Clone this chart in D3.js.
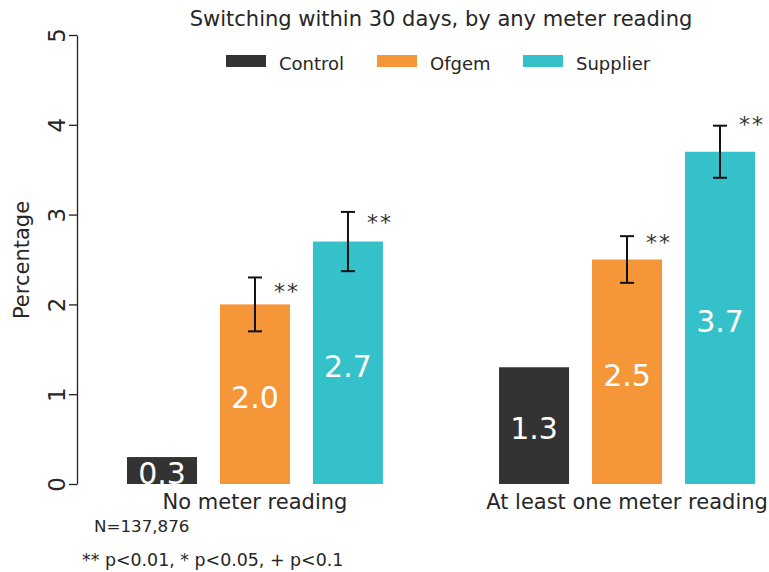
<!DOCTYPE html>
<html>
<head>
<meta charset="utf-8">
<script src="https://cdn.jsdelivr.net/npm/d3@7"></script>
<style>
  body { margin: 0; background: #fff; }
  text { font-family: "DejaVu Sans", Verdana, sans-serif; fill: #262626; }
</style>
</head>
<body>
<svg id="chart" width="769" height="572"></svg>
<script>
// groups and series
const groups = ["No meter reading", "At least one meter reading"];
const series = ["Control", "Ofgem", "Supplier"];
const colors = ["#333333", "#f59638", "#35c1ca"];

// values (percent)
const controlVals = [0.3, 1.3];
const ofgemVals = [2.0, 2.5];
const supplierVals = [2.7, 3.7];
// 95% CI bounds (control has none)
const ofgemLow = [1.7, 2.24];
const ofgemHigh = [2.3, 2.76];
const supplierLow = [2.37, 3.41];
const supplierHigh = [3.03, 3.99];
const stars = ["", "**", "**"];

const yTicks = [0, 1, 2, 3, 4, 5];

const data = [];
groups.forEach((g, i) => {
  data.push({ group: g, key: "Control", value: controlVals[i], lo: null, hi: null, star: stars[0] });
  data.push({ group: g, key: "Ofgem", value: ofgemVals[i], lo: ofgemLow[i], hi: ofgemHigh[i], star: stars[1] });
  data.push({ group: g, key: "Supplier", value: supplierVals[i], lo: supplierLow[i], hi: supplierHigh[i], star: stars[2] });
});

const svg = d3.select("#chart");

const y = d3.scaleLinear().domain([0, 5]).range([484, 35]);
const x0 = d3.scaleBand().domain(groups).range([127, 755]).paddingInner(0.312).paddingOuter(0);
const x1 = d3.scaleBand().domain(series).range([0, x0.bandwidth()]).paddingInner(0.247).paddingOuter(0);
const color = d3.scaleOrdinal().domain(series).range(colors);

// title
svg.append("text")
  .attr("x", 441).attr("y", 26)
  .attr("text-anchor", "middle")
  .style("font-size", "21px")
  .text("Switching within 30 days, by any meter reading");

// legend
const legend = svg.append("g");
const legendX = [226, 377, 523];
series.forEach((s, i) => {
  legend.append("rect")
    .attr("x", legendX[i]).attr("y", 55)
    .attr("width", 40).attr("height", 12)
    .attr("fill", color(s));
  legend.append("text")
    .attr("x", legendX[i] + 53).attr("y", 70)
    .style("font-size", "18px")
    .text(s);
});

// y axis
const yAxis = svg.append("g")
  .attr("transform", "translate(77,0)")
  .call(d3.axisLeft(y).tickValues(yTicks).tickSize(8).tickSizeOuter(0).tickFormat(d3.format("d")));
yAxis.select(".domain").attr("stroke", "#222").attr("stroke-width", 1.3);
yAxis.selectAll(".tick line").attr("stroke", "#222").attr("stroke-width", 1.3);
yAxis.selectAll(".tick text")
  .attr("transform", "rotate(-90)")
  .attr("x", 0).attr("y", -12).attr("dy", 0)
  .attr("text-anchor", "middle")
  .style("font-size", "23px")
  .style("font-family", "'DejaVu Sans', Verdana, sans-serif")
  .attr("fill", "#262626");

svg.append("text")
  .attr("transform", "translate(29,260) rotate(-90)")
  .attr("text-anchor", "middle")
  .style("font-size", "21px")
  .text("Percentage");

// bars
const bars = svg.append("g");
const barX = d => x0(d.group) + x1(d.key);

bars.selectAll("rect")
  .data(data)
  .join("rect")
  .attr("x", barX)
  .attr("y", d => y(d.value))
  .attr("width", x1.bandwidth())
  .attr("height", d => y(0) - y(d.value))
  .attr("fill", d => color(d.key));

// value labels inside bars (clipped to the bar area)
svg.append("clipPath").attr("id", "plotclip")
  .append("rect").attr("x", 78).attr("y", 0).attr("width", 700).attr("height", y(0));

svg.append("g").attr("clip-path", "url(#plotclip)")
  .selectAll("text")
  .data(data)
  .join("text")
  .attr("x", d => barX(d) + x1.bandwidth() / 2)
  .attr("y", d => (y(d.value) + y(0)) / 2)
  .attr("dy", "0.46em")
  .attr("text-anchor", "middle")
  .style("font-size", "30px")
  .style("fill", "#fff")
  .text(d => d3.format(".1f")(d.value));

// error bars
const errs = data.filter(d => d.lo !== null);
const eb = svg.append("g").attr("stroke", "#111").attr("stroke-width", 2);
errs.forEach(d => {
  const cx = barX(d) + x1.bandwidth() / 2;
  eb.append("line").attr("x1", cx).attr("x2", cx).attr("y1", y(d.lo)).attr("y2", y(d.hi));
  eb.append("line").attr("x1", cx - 7).attr("x2", cx + 7).attr("y1", y(d.lo)).attr("y2", y(d.lo));
  eb.append("line").attr("x1", cx - 7).attr("x2", cx + 7).attr("y1", y(d.hi)).attr("y2", y(d.hi));
});

// significance stars
svg.append("g").selectAll("text")
  .data(errs)
  .join("text")
  .attr("x", d => barX(d) + x1.bandwidth() / 2 + 32)
  .attr("y", d => y(d.value * 1.1) + 13)
  .attr("text-anchor", "middle")
  .style("font-size", "22px")
  .style("letter-spacing", "2px")
  .style("fill", "#333")
  .text(d => d.star);

// group labels
svg.append("g").selectAll("text")
  .data(groups)
  .join("text")
  .attr("x", g => x0(g) + x0.bandwidth() / 2)
  .attr("y", 509)
  .attr("text-anchor", "middle")
  .style("font-size", "21px")
  .text(g => g);

// notes
svg.append("text").attr("x", 94).attr("y", 532).style("font-size", "16.7px").text("N=137,876");
svg.append("text").attr("x", 82).attr("y", 566).style("font-size", "17.4px").text("** p<0.01, * p<0.05, + p<0.1");
</script>
</body>
</html>
